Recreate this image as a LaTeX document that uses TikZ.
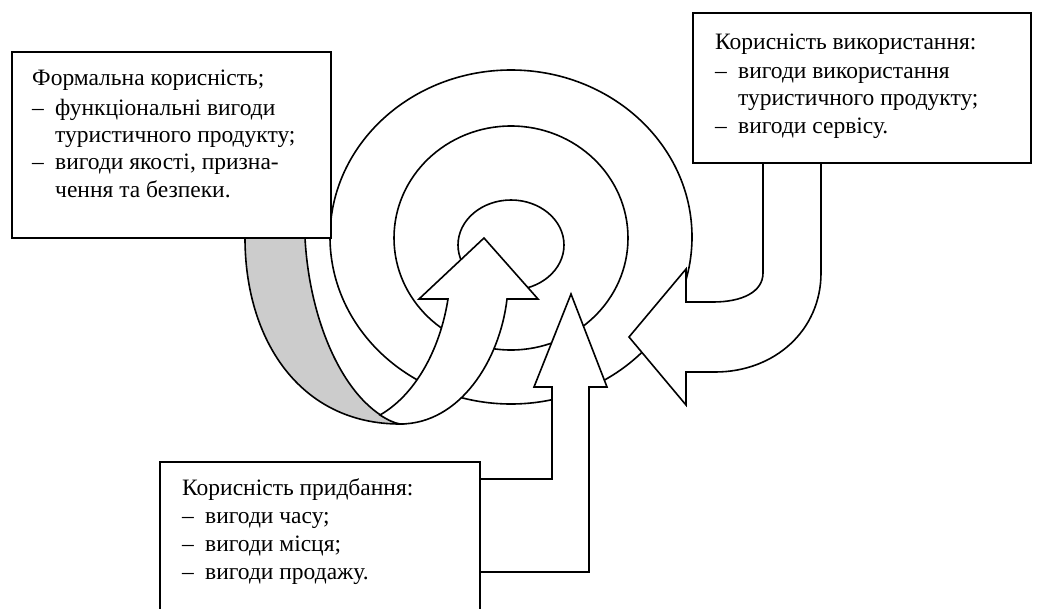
\documentclass[tikz,border=0pt]{standalone}
\usepackage{fontspec}
\setmainfont{Liberation Serif}
\begin{document}
\begin{tikzpicture}[x=1pt,y=-1pt,
  ring/.style={line width=1.6pt},
  arrowshape/.style={line width=1.6pt, line join=miter, fill=white},
  backshape/.style={line width=1.6pt, fill=black!20},
  box/.style={draw, line width=2pt, fill=white, rectangle, anchor=north west, inner sep=0pt, outer sep=0pt},
  txt/.style={anchor=base west, inner sep=0pt, font=\fontsize{23.5}{28}\selectfont}]
\useasboundingbox (0,0) rectangle (1044,608);
\clip (0,0) rectangle (1044,608);
% concentric rings
\draw[ring] (511,237) ellipse [x radius=181pt, y radius=167pt];
\draw[ring] (511,238) ellipse [x radius=117pt, y radius=112pt];
\draw[ring] (511,245) ellipse [x radius=53pt, y radius=45pt];
% curved up arrow: shaded back part
\draw[backshape] (245,238) .. controls (245,340) and (300,424) .. (400,424)
  .. controls (350,410) and (310,330) .. (305,238);
% curved up arrow: front part with head
\draw[arrowshape] (448,299) .. controls (440,350) and (415,395) .. (380,415)
  .. controls (388,420) and (394,423) .. (400,424)
  .. controls (460,424) and (500,360) .. (507,299)
  -- (538,299) -- (484,238) -- (419,299) -- cycle;
% bent arrow from the right box
\draw[arrowshape] (763,163) -- (763,273) .. controls (763,292) and (742,302) .. (713,302)
  -- (686,302) -- (686,269) -- (629,337) -- (686,405) -- (686,372) -- (715,372)
  .. controls (775,372) and (821,330) .. (821,273) -- (821,163);
% bent up arrow from the bottom box
\draw[arrowshape] (480,479) -- (552,479) -- (552,387) -- (534,387) -- (571,294)
  -- (607,387) -- (589,387) -- (589,572) -- (480,572);
% boxes
\node[box, minimum width=319pt, minimum height=186pt] (formal) at (12,52) {};
\node[box, minimum width=338pt, minimum height=150pt] (use) at (693,13) {};
\node[box, minimum width=320pt, minimum height=153pt] (buy) at (160,462) {};
% texts of the left box
\node[txt] (f1) at (32,85) {Формальна корисність;};
\node[txt] (f2) at (32,115) {\makebox[23pt][l]{–}функціональні вигоди};
\node[txt] (f3) at (55,142) {туристичного продукту;};
\node[txt] (f4) at (32,169) {\makebox[23pt][l]{–}вигоди якості, призна-};
\node[txt] (f5) at (55,197) {чення та безпеки.};
% texts of the right box
\node[txt] (u1) at (715,49) {Корисність використання:};
\node[txt] (u2) at (715,78) {\makebox[23pt][l]{–}вигоди використання};
\node[txt] (u3) at (738,105) {туристичного продукту;};
\node[txt] (u4) at (715,133) {\makebox[23pt][l]{–}вигоди сервісу.};
% texts of the bottom box
\node[txt] (b1) at (182,495) {Корисність придбання:};
\node[txt] (b2) at (182,523) {\makebox[23pt][l]{–}вигоди часу;};
\node[txt] (b3) at (182,551) {\makebox[23pt][l]{–}вигоди місця;};
\node[txt] (b4) at (182,579) {\makebox[23pt][l]{–}вигоди продажу.};
\end{tikzpicture}
\end{document}
